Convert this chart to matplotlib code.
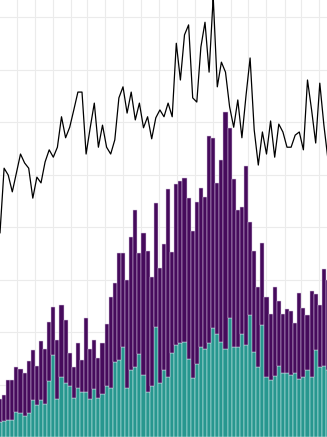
import matplotlib
matplotlib.use("Agg")
import matplotlib.pyplot as plt
import matplotlib.dates as mdates
import numpy as np
import pandas as pd

weeks = pd.date_range("2021-10-03", periods=81, freq="7D")

teal = [2.9, 3.0, 3.2, 3.2, 4.8, 4.6, 4.0, 4.6, 7.0, 6.1,
        7.0, 6.3, 10.7, 15.6, 7.2, 11.4, 10.3, 9.7, 7.4, 9.3,
        8.6, 8.6, 7.2, 9.1, 7.4, 8.2, 9.7, 9.3, 14.3, 14.7,
        17.1, 9.3, 12.8, 13.3, 15.8, 11.8, 8.6, 9.7, 21.0, 10.3,
        12.8, 11.4, 16.0, 17.5, 17.9, 18.1, 14.9, 11.2, 13.9, 17.1,
        16.8, 17.9, 20.8, 19.6, 18.1, 16.8, 22.7, 17.1, 17.1, 19.6,
        17.5, 23.2, 16.2, 13.3, 21.3, 11.4, 10.9, 11.6, 13.5, 12.2,
        12.2, 11.8, 12.2, 11.0, 11.4, 12.8, 11.4, 16.6, 13.3, 13.5,
        12.8]

purple = [4.4, 5.0, 7.6, 7.6, 8.6, 8.4, 8.2, 9.9, 9.5, 7.4,
          11.2, 10.5, 11.2, 9.1, 11.2, 13.7, 12.0, 6.3, 5.9, 8.6,
          6.1, 14.1, 9.5, 9.3, 7.6, 9.7, 11.8, 17.3, 15.0, 20.4,
          17.9, 20.6, 25.3, 29.9, 19.2, 27.0, 26.9, 20.8, 23.6, 21.9,
          24.0, 35.8, 19.2, 30.7, 30.9, 31.2, 30.7, 28.0, 30.9, 30.3,
          29.0, 39.4, 36.2, 28.8, 34.7, 45.1, 36.2, 32.0, 26.1, 24.2,
          34.1, 17.7, 19.2, 15.2, 15.6, 15.2, 12.6, 17.0, 12.4, 11.2,
          12.2, 12.2, 9.5, 16.4, 13.1, 10.5, 16.4, 10.7, 11.8, 18.5,
          17.1]

line = [38.9, 51.2, 49.9, 46.7, 50.3, 53.9, 52.2, 51.2, 45.5, 49.5,
        48.4, 52.4, 54.7, 53.3, 55.2, 61.0, 57.0, 59.0, 62.3, 65.7,
        65.7, 53.9, 58.9, 63.6, 55.2, 59.4, 55.2, 53.9, 56.6, 64.6,
        66.7, 61.7, 65.7, 60.4, 63.6, 58.9, 61.0, 56.8, 60.8, 62.3,
        61.0, 63.6, 61.0, 75.0, 68.0, 76.6, 78.5, 64.6, 63.8, 74.3,
        79.0, 69.5, 83.8, 66.7, 71.4, 69.5, 62.9, 59.0, 64.2, 57.0,
        65.0, 72.2, 58.5, 51.8, 58.1, 53.9, 60.2, 53.3, 59.6, 58.1,
        55.2, 55.2, 57.5, 58.1, 54.7, 68.0, 62.3, 56.0, 67.4, 59.4,
        52.8]

fig = plt.figure(figsize=(3.27, 4.37), dpi=100)
ax = fig.add_axes([0, 0, 1, 1])

x = mdates.date2num(weeks)
teal_a = np.array(teal)
purple_a = np.array(purple)

ax.bar(x, teal_a, width=7, color="#27978f", edgecolor="#d8eeee", linewidth=0.35, zorder=2)
ax.bar(x, purple_a, bottom=teal_a, width=7, color="#460b5c", edgecolor="#d8c8e0",
       linewidth=0.35, zorder=2)
ax.plot(x, line, color="black", linewidth=0.9, zorder=3)

ax.set_xlim(x[0], x[0] + 558.3)
ax.set_ylim(0, 83.24)
ax.xaxis.set_major_locator(mdates.MonthLocator())
ax.yaxis.set_major_locator(plt.MultipleLocator(10))
ax.grid(True, color="#ebebeb", linewidth=0.8)
ax.set_axisbelow(True)
ax.tick_params(length=0, labelbottom=False, labelleft=False)
for s in ax.spines.values():
    s.set_visible(False)

fig.savefig("out.png", dpi=100)
